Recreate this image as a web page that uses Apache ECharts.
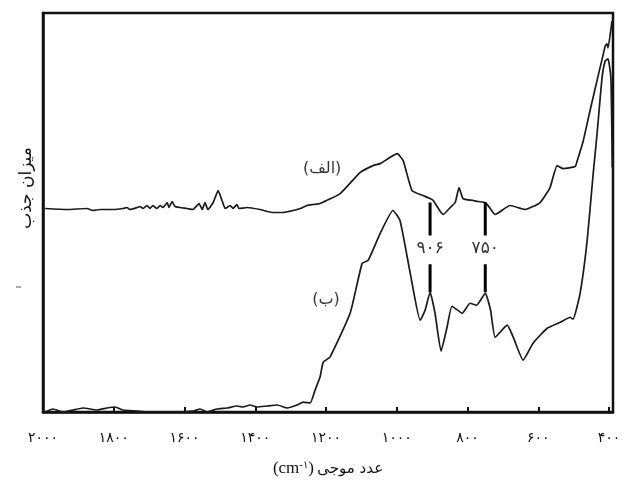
<!DOCTYPE html>
<html>
<head>
<meta charset="utf-8">
<script src="https://cdn.jsdelivr.net/npm/echarts@6/dist/echarts.min.js"></script>
<style>html,body{margin:0;padding:0;background:#fff;}#c{width:622px;height:486px;}</style>
</head>
<body>
<div id="c"></div>
<script>
// Tick labels (wavenumber, cm-1)
const tickValues = [2000, 1800, 1600, 1400, 1200, 1000, 800, 600, 400];

// Spectrum (الف) – upper curve
const wnA = [1994,1932,1876,1859,1839,1802,1774,1763,1754,1734,1726,1717,1706,1698,1689,1678,1669,1661,1649,1644,1635,1627,1613,1593,1576,1559,1550,1542,1534,1519,1505,1494,1485,1471,1463,1452,1446,1423,1387,1350,1322,1293,1273,1254,1237,1217,1160,1104,1067,1047,999,982,957,926,906,897,869,849,835,824,813,784,770,750,738,722,680,637,595,567,547,530,496,490,473,454,411,406,403,392];
const absA = [204,203,204,202,203,203,204,205,203,205,206,204,207,204,207,204,207,205,210,205,211,206,205,204,203,209,203,210,203,210,222,212,204,207,204,208,204,205,203,200,200,202,204,207,208,209,219,240,247,249,259,252,222,217,214,212,198,205,210,225,214,212,211,210,205,198,207,203,210,225,247,244,246,252,272,302,367,369,365,392];

// Spectrum (ب) – lower curve
const wnB = [1994,1972,1943,1915,1887,1847,1819,1796,1774,1734,1706,1641,1576,1556,1536,1508,1480,1452,1435,1415,1395,1367,1338,1310,1282,1265,1245,1231,1217,1208,1189,1132,1098,1081,1047,1011,991,962,934,920,906,892,875,858,844,815,793,775,750,735,722,688,671,643,615,575,538,510,502,482,462,445,434,420,411,403,395,391];
const absB = [0,3,0,2,4,2,4,5,2,1,0,0,1,3,0,3,4,6,5,7,5,6,7,4,7,10,9,22,35,50,55,99,149,152,179,202,192,139,92,102,120,99,61,85,106,99,109,107,119,102,75,87,75,52,69,84,90,95,93,119,172,239,279,335,352,354,335,245];

// Marked peaks
const peakValues = [906, 750];
const markerUpper = [177, 210];
const markerLower = [120, 148];
const peakLabelY = 164;

// Curve labels
const curveLabels = ['(الف)', '(ب)'];
const curveLabelPos = [[1211, 244], [1200, 112]];

const faDigits = '۰۱۲۳۴۵۶۷۸۹';
function toFa(n) { return String(n).replace(/[0-9]/g, d => faDigits[+d]); }

const ink = '#1a1a1a';
const series = [];
series.push({
  type: 'line', data: wnA.map((w, i) => [w, absA[i]]), showSymbol: false, smooth: 0.15,
  lineStyle: { color: ink, width: 1.7 }, z: 3
});
series.push({
  type: 'line', data: wnB.map((w, i) => [w, absB[i]]), showSymbol: false, smooth: 0.15,
  lineStyle: { color: ink, width: 1.7 }, z: 3
});
peakValues.forEach(p => {
  series.push({ type: 'line', data: [[p, markerUpper[0]], [p, markerUpper[1]]], showSymbol: false,
    lineStyle: { color: '#000', width: 3 }, z: 4 });
  series.push({ type: 'line', data: [[p, markerLower[0]], [p, markerLower[1]]], showSymbol: false,
    lineStyle: { color: '#000', width: 3 }, z: 4 });
});
series.push({
  type: 'scatter', symbolSize: 0, z: 5,
  data: peakValues.map(p => ({ value: [p, peakLabelY], name: toFa(p) })),
  label: { show: true, position: 'inside', formatter: '{b}', color: '#000',
    fontFamily: 'DejaVu Sans', fontSize: 17 }
});
series.push({
  type: 'scatter', symbolSize: 0, z: 5,
  data: curveLabels.map((t, i) => ({ value: curveLabelPos[i], name: t })),
  label: { show: true, position: 'inside', formatter: '{b}', color: '#000',
    fontFamily: 'DejaVu Sans', fontSize: 16 }
});

const chart = echarts.init(document.getElementById('c'));
chart.setOption({
  animation: false,
  backgroundColor: '#fff',
  grid: { left: 43, right: 9, top: 13, bottom: 74, show: true, borderColor: '#111', borderWidth: 2.5,
    containLabel: false, outerBoundsMode: 'none' },
  xAxis: {
    type: 'value', inverse: true, min: 389, max: 2000,
    name: '{a|(cm}{b|-۱}{a|)} {c|عدد موجی}', nameLocation: 'middle', nameGap: 48,
    nameTextStyle: {
      rich: {
        a: { fontFamily: 'Liberation Serif', fontSize: 17, color: '#111' },
        b: { fontFamily: 'DejaVu Sans', fontSize: 10, color: '#111', verticalAlign: 'top', padding: [0, 0, 8, 0] },
        c: { fontFamily: 'DejaVu Sans', fontSize: 15, color: '#111' }
      }
    },
    axisLine: { show: true, lineStyle: { color: '#111', width: 2.5 } },
    axisTick: { show: true, inside: true, length: 5, lineStyle: { color: '#111', width: 2 }, customValues: tickValues },
    axisLabel: { customValues: tickValues, formatter: v => toFa(v), color: '#111',
      fontFamily: 'DejaVu Sans', fontSize: 14, margin: 19 },
    splitLine: { show: false }
  },
  yAxis: {
    type: 'value', min: 0, max: 400,
    axisLine: { show: true, lineStyle: { color: '#111', width: 2.5 } },
    axisTick: { show: false }, axisLabel: { show: false }, splitLine: { show: false }
  },
  graphic: [
    { type: 'text', x: 27, y: 188, rotation: Math.PI / 2, origin: [0, 0],
      style: { text: 'میزان جذب', fontFamily: 'DejaVu Sans', fontSize: 17, fill: '#111',
        textAlign: 'center', textVerticalAlign: 'middle' } },
    { type: 'line', shape: { x1: 16, y1: 287, x2: 21, y2: 287 }, style: { stroke: '#555', lineWidth: 1 } }
  ],
  series: series
});
</script>
</body>
</html>
